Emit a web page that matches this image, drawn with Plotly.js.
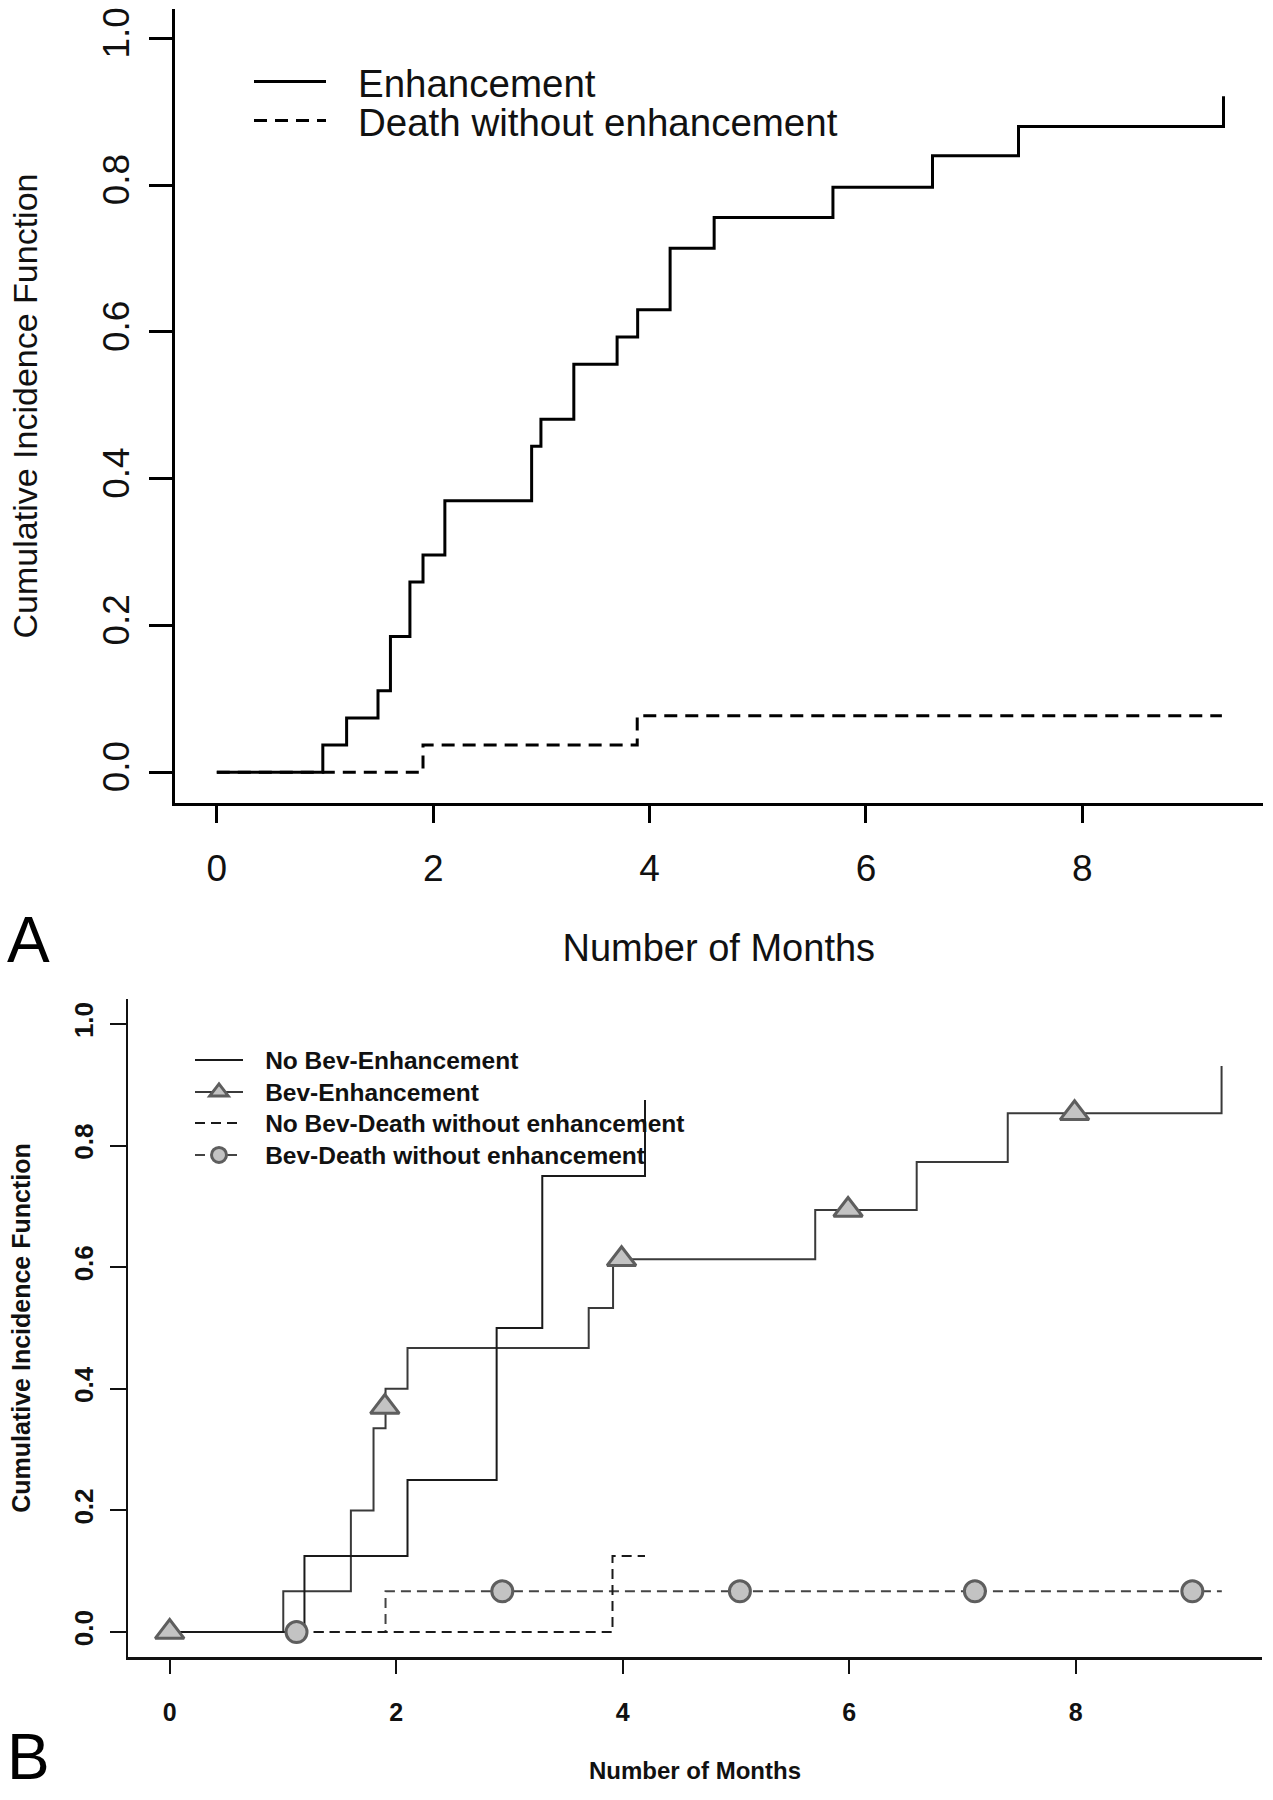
<!DOCTYPE html>
<html><head><meta charset="utf-8">
<script src="https://cdn.plot.ly/plotly-3.0.1.min.js"></script>
<style>html,body{margin:0;padding:0;background:#fff}</style>
</head><body><div id="chart" style="width:1273px;height:1800px"></div>
<script>
// ---------- shared ticks ----------
const monthTicks = [0, 2, 4, 6, 8];
const probTicks = [0, 0.2, 0.4, 0.6, 0.8, 1.0];
const probTickText = ['0.0', '0.2', '0.4', '0.6', '0.8', '1.0'];

// ---------- Panel A ----------
const enhTimes = [0, 0.98, 1.20, 1.49, 1.605, 1.785, 1.906, 2.108, 2.91, 2.996, 3.30, 3.70, 3.89, 4.19, 4.597, 5.695, 6.615, 7.41, 9.305];
const enhCIF   = [0, 0.037, 0.074, 0.111, 0.185, 0.259, 0.296, 0.370, 0.444, 0.481, 0.556, 0.593, 0.630, 0.714, 0.756, 0.797, 0.840, 0.880, 0.921];
const deathTimes = [0, 1.906, 3.886, 9.29];
const deathCIF   = [0, 0.037, 0.077, 0.077];
const seriesNamesA = ['Enhancement', 'Death without enhancement'];

// ---------- Panel B ----------
const noBevEnhTimes = [0, 1.19, 2.10, 2.887, 3.29, 4.197];
const noBevEnhCIF   = [0, 0.125, 0.25, 0.50, 0.75, 0.875];
const bevEnhTimes = [0, 1.003, 1.60, 1.80, 1.906, 2.10, 3.70, 3.915, 5.70, 6.596, 7.40, 9.288];
const bevEnhCIF   = [0, 0.067, 0.200, 0.335, 0.400, 0.467, 0.533, 0.613, 0.694, 0.773, 0.853, 0.931];
const bevEnhMarkTimes = [0, 1.90, 3.99, 5.99, 7.99];
const bevEnhMarkCIF   = [0, 0.37, 0.613, 0.694, 0.853];
const noBevDeathTimes = [0, 3.91, 4.197];
const noBevDeathCIF   = [0, 0.125, 0.125];
const bevDeathTimes = [0, 1.906, 9.29];
const bevDeathCIF   = [0, 0.067, 0.067];
const bevDeathMarkTimes = [1.12, 2.937, 5.035, 7.11, 9.03];
const bevDeathMarkCIF   = [0, 0.067, 0.067, 0.067, 0.067];
const seriesNamesB = ['No Bev-Enhancement', 'Bev-Enhancement', 'No Bev-Death without enhancement', 'Bev-Death without enhancement'];

const W = 1273, H = 1800;
const fx = p => p / W;
const fy = p => 1 - p / H;

const FA = 'Liberation Sans, Arial, sans-serif';
const markFill = '#c3c3c3', markLine = '#5e5e5e';
// non-collapsing spaces to widen the gap between legend sample and label
const padA = '\u2002\u2009';
const padB = '\u2002\u2009';

const traces = [
  // Panel A
  {x: enhTimes, y: enhCIF, xaxis: 'x', yaxis: 'y', mode: 'lines', line: {shape: 'hv', color: '#000', width: 3},
   name: padA + seriesNamesA[0], legend: 'legend'},
  {x: deathTimes, y: deathCIF, xaxis: 'x', yaxis: 'y', mode: 'lines', line: {shape: 'hv', color: '#000', width: 3, dash: '13px,8px'},
   name: padA + seriesNamesA[1], legend: 'legend2'},
  // Panel B
  {x: bevDeathTimes, y: bevDeathCIF, xaxis: 'x2', yaxis: 'y2', mode: 'lines', line: {shape: 'hv', color: '#444', width: 2, dash: '10px,6px'},
   showlegend: false},
  {x: noBevDeathTimes, y: noBevDeathCIF, xaxis: 'x2', yaxis: 'y2', mode: 'lines', line: {shape: 'hv', color: '#1a1a1a', width: 2, dash: '10px,6px'},
   name: padB + seriesNamesB[2], legend: 'legend5'},
  {x: bevEnhTimes, y: bevEnhCIF, xaxis: 'x2', yaxis: 'y2', mode: 'lines', line: {shape: 'hv', color: '#3a3a3a', width: 2},
   showlegend: false},
  {x: noBevEnhTimes, y: noBevEnhCIF, xaxis: 'x2', yaxis: 'y2', mode: 'lines', line: {shape: 'hv', color: '#1a1a1a', width: 2},
   name: padB + seriesNamesB[0], legend: 'legend3'},
  {x: bevEnhMarkTimes, y: bevEnhMarkCIF, xaxis: 'x2', yaxis: 'y2', mode: 'markers',
   marker: {symbol: 'triangle-up', size: 25, color: markFill, line: {color: markLine, width: 3}}, showlegend: false},
  {x: bevDeathMarkTimes, y: bevDeathMarkCIF, xaxis: 'x2', yaxis: 'y2', mode: 'markers',
   marker: {symbol: 'circle', size: 21, color: markFill, line: {color: markLine, width: 3}}, showlegend: false},
  // legend-only entries combining line + marker
  {x: [null], y: [null], xaxis: 'x2', yaxis: 'y2', mode: 'lines+markers', name: padB + seriesNamesB[1], legend: 'legend4',
   line: {color: '#3a3a3a', width: 2}, marker: {symbol: 'triangle-up', size: 16, color: markFill, line: {color: markLine, width: 3}}},
  {x: [null], y: [null], xaxis: 'x2', yaxis: 'y2', mode: 'lines+markers', name: padB + seriesNamesB[3], legend: 'legend6',
   line: {color: '#444', width: 2, dash: '10px,6px'}, marker: {symbol: 'circle', size: 15, color: markFill, line: {color: markLine, width: 3}}}
];

function legendAt(xPx, yPx, font, iw) {
  return {x: fx(xPx), y: fy(yPx), xanchor: 'left', yanchor: 'middle', bgcolor: 'rgba(0,0,0,0)',
          borderwidth: 0, font: font, itemwidth: iw, itemclick: false, itemdoubleclick: false};
}
const legFontA = {family: FA, size: 38.5, color: '#111'};
const legFontB = {family: FA, size: 24.5, color: '#111', weight: 'bold'};

const axBase = {showgrid: false, zeroline: false, showline: true, mirror: false, ticks: 'outside', fixedrange: true, automargin: false};

const layout = {
  width: W, height: H, margin: {l: 0, r: 0, t: 0, b: 0},
  paper_bgcolor: '#fff', plot_bgcolor: '#fff',
  showlegend: true,
  xaxis: Object.assign({}, axBase, {
    domain: [fx(174.6), fx(1263)], range: [-0.39, 9.67], anchor: 'y',
    tickvals: monthTicks, ticklen: 17, tickwidth: 3, linewidth: 3, linecolor: '#000', tickcolor: '#000',
    tickfont: {family: FA, size: 37, color: '#111'}, ticklabelstandoff: 14,
    title: {text: 'Number of Months', font: {family: FA, size: 38, color: '#111'}, standoff: 46}
  }),
  yaxis: Object.assign({}, axBase, {
    domain: [fy(803), fy(9)], range: [-0.042, 1.04], anchor: 'x',
    tickvals: probTicks, ticktext: probTickText, tickangle: -90,
    ticklen: 23, tickwidth: 3, linewidth: 3, linecolor: '#000', tickcolor: '#000',
    tickfont: {family: FA, size: 37, color: '#111'}, ticklabelstandoff: 5,
    title: {text: 'Cumulative Incidence Function', font: {family: FA, size: 34, color: '#111'}, standoff: 48}
  }),
  xaxis2: Object.assign({}, axBase, {
    domain: [fx(128), fx(1262)], range: [-0.368, 9.645], anchor: 'y2',
    tickvals: monthTicks, ticklen: 14, tickwidth: 2, linewidth: 2.5, linecolor: '#111', tickcolor: '#111',
    tickfont: {family: FA, size: 25, color: '#111', weight: 'bold'}, ticklabelstandoff: 17,
    title: {text: 'Number of Months', font: {family: FA, size: 24, color: '#111', weight: 'bold'}, standoff: 38}
  }),
  yaxis2: Object.assign({}, axBase, {
    domain: [fy(1657), fy(999)], range: [-0.041, 1.041], anchor: 'x2',
    tickvals: probTicks, ticktext: probTickText, tickangle: -90,
    ticklen: 16, tickwidth: 2, linewidth: 2.5, linecolor: '#111', tickcolor: '#111',
    tickfont: {family: FA, size: 26, color: '#111', weight: 'bold'}, ticklabelstandoff: 6,
    title: {text: 'Cumulative Incidence Function', font: {family: FA, size: 25, color: '#111', weight: 'bold'}, standoff: 32}
  }),
  legend:  legendAt(249, 82, legFontA, 72),
  legend2: legendAt(249, 121, legFontA, 72),
  legend3: legendAt(190, 1060, legFontB, 48),
  legend4: legendAt(190, 1092, legFontB, 48),
  legend5: legendAt(190, 1123, legFontB, 48),
  legend6: legendAt(190, 1155, legFontB, 48),
  annotations: [
    {text: 'A', xref: 'paper', yref: 'paper', x: fx(28), y: fy(940), xanchor: 'center', yanchor: 'middle', showarrow: false,
     font: {family: FA, size: 64, color: '#000'}},
    {text: 'B', xref: 'paper', yref: 'paper', x: fx(28), y: fy(1757), xanchor: 'center', yanchor: 'middle', showarrow: false,
     font: {family: FA, size: 64, color: '#000'}}
  ]
};

Plotly.newPlot('chart', traces, layout, {staticPlot: true, displayModeBar: false});
</script>
</body></html>
